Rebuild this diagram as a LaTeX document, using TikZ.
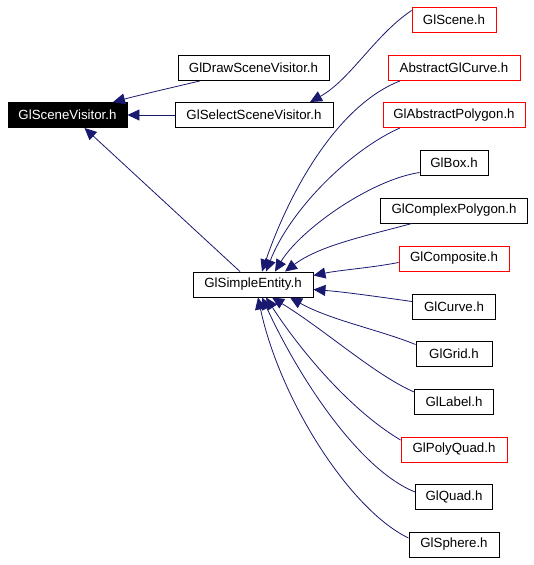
\documentclass[tikz,border=0pt]{standalone}
\usepackage{fontspec}
\setmainfont{Liberation Sans}
\usetikzlibrary{arrows.meta}
\definecolor{edgeblue}{RGB}{25,25,112}
\begin{document}
\begin{tikzpicture}[x=1pt,y=-1pt,
  box/.style={draw=black,line width=0.9pt,minimum height=25pt,inner sep=0pt,
    font=\fontsize{13.3}{15}\selectfont,fill=white},
  redbox/.style={box,draw=red},
  blackbox/.style={box,fill=black,text=white},
  edge/.style={draw=edgeblue,line width=0.8pt,-{Triangle[length=12pt,width=11pt]}}]
\useasboundingbox (0,0) rectangle (533,565);
\node[blackbox,minimum width=119pt] (sv) at (67.5,115) {GlSceneVisitor.h};
\node[box,minimum width=151pt] (ds) at (253.5,68) {GlDrawSceneVisitor.h};
\node[box,minimum width=158pt] (ss) at (254,115) {GlSelectSceneVisitor.h};
\node[redbox,minimum width=84pt] (gs) at (454,19.5) {GlScene.h};
\node[redbox,minimum width=132pt] (ac) at (454,68) {AbstractGlCurve.h};
\node[redbox,minimum width=142pt] (ap) at (454,115) {GlAbstractPolygon.h};
\node[box,minimum width=68pt] (gb) at (454,162.5) {GlBox.h};
\node[box,minimum width=147pt] (cp) at (454,210.5) {GlComplexPolygon.h};
\node[redbox,minimum width=110pt] (cm) at (454,258.5) {GlComposite.h};
\node[box,minimum width=120pt] (se) at (253,284.5) {GlSimpleEntity.h};
\node[box,minimum width=83pt] (gc) at (454,306.5) {GlCurve.h};
\node[box,minimum width=76pt] (gg) at (454,353.5) {GlGrid.h};
\node[box,minimum width=79pt] (gl) at (454,401.5) {GlLabel.h};
\node[redbox,minimum width=106pt] (pq) at (454,449.5) {GlPolyQuad.h};
\node[box,minimum width=77pt] (gq) at (454,496.5) {GlQuad.h};
\node[box,minimum width=90pt] (sp) at (454,544.5) {GlSphere.h};

\draw[edge] ([xshift=-53.5pt]ds.south) .. controls (170,88) and (140,95) .. ([xshift=45.5pt]sv.north);
\draw[edge] (ss.west) -- (sv.east);
\draw[edge] ([xshift=-13pt]se.north) -- ([xshift=17pt]sv.south);
\draw[edge] ([yshift=9pt]gs.west) .. controls (375,35) and (350,80) .. ([xshift=56pt]ss.north);
\draw[edge] ([xshift=-54pt]ac.south) .. controls (338,105) and (290,190) .. ([xshift=9pt]se.north);
\draw[edge] ([xshift=-54pt]ap.south) .. controls (350,150) and (290,210) .. ([xshift=13pt]se.north);
\draw[edge] ([yshift=-10pt]gb.west) .. controls (370,180) and (300,230) .. ([xshift=22pt]se.north);
\draw[edge] ([xshift=-42pt]cp.south) .. controls (370,235) and (320,245) .. ([xshift=32pt]se.north);
\draw[edge] ([yshift=-4pt]cm.west) .. controls (370,268) and (340,270) .. ([yshift=9pt]se.east);
\draw[edge] ([yshift=5pt]gc.west) .. controls (380,297) and (345,292) .. ([yshift=-5pt]se.east);
\draw[edge] ([yshift=9pt]gg.west) .. controls (380,330) and (330,320) .. ([xshift=37pt]se.south);
\draw[edge] ([yshift=9.5pt]gl.west) .. controls (375,375) and (325,330) .. ([xshift=19pt]se.south);
\draw[edge] ([yshift=9.5pt]pq.west) .. controls (350,410) and (300,350) .. ([xshift=13pt]se.south);
\draw[edge] ([yshift=4.5pt]gq.west) .. controls (360,470) and (300,380) .. ([xshift=9pt]se.south);
\draw[edge] ([yshift=6.5pt]sp.west) .. controls (350,510) and (280,400) .. ([xshift=5pt]se.south);
\end{tikzpicture}
\end{document}
